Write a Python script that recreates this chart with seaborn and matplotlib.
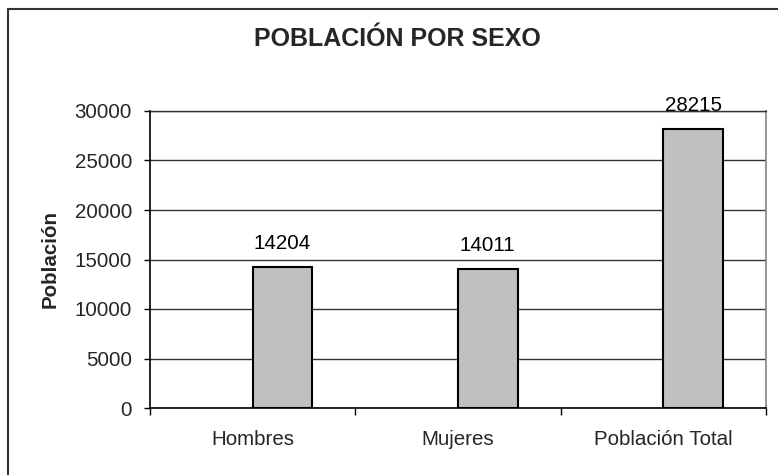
import pandas as pd
import numpy as np
import matplotlib
matplotlib.use("Agg")
import matplotlib.pyplot as plt
import seaborn as sns
from matplotlib.lines import Line2D
from matplotlib.ticker import FixedLocator

# data
categorias = ["Hombres", "Mujeres", "Población Total"]
poblacion = [14204, 14011, 28215]
y_ticks = [0, 5000, 10000, 15000, 20000, 25000, 30000]

sns.set_theme(style="white")
plt.rcParams['font.family'] = ['Liberation Sans', 'DejaVu Sans']

# excel chart had an empty first series, so bars sit right of the category centre
df = pd.DataFrame({
    "categoria": categorias * 2,
    "serie": ["vacio"] * len(categorias) + ["Población"] * len(categorias),
    "valor": [np.nan] * len(categorias) + poblacion,
})

fig = plt.figure(figsize=(7.78, 4.75), dpi=100)
ax = fig.add_axes([150/778, 1 - 408/475, (766 - 150)/778, (408 - 111)/475])

sns.barplot(data=df, x="categoria", y="valor", hue="serie",
            hue_order=["vacio", "Población"], order=categorias,
            palette=["#C0C0C0", "#C0C0C0"], edgecolor="black", linewidth=1.5,
            width=0.58, legend=False, ax=ax, zorder=3)

ax.bar_label(ax.containers[-1], fmt="%d", padding=10, fontsize=14.8, color="black")

ax.set_ylim(0, 30000)
ax.set_yticks(y_ticks)
ax.set_xlim(-0.5, len(categorias) - 0.5)
ax.yaxis.grid(True, color="#333333", linewidth=1)
ax.set_axisbelow(True)

# tick marks on category boundaries, labels in the middle
ax.xaxis.set_minor_locator(FixedLocator(np.arange(-0.5, len(categorias), 1.0)))
ax.tick_params(axis="x", which="major", length=0, pad=16, labelsize=14.8)
ax.tick_params(axis="x", which="minor", length=5, width=1, color="black", direction="out", bottom=True)
ax.tick_params(axis="y", length=4, width=1, color="black", direction="out", left=True, pad=9, labelsize=14.8)

for s in ["left", "bottom"]:
    ax.spines[s].set_color("black")
    ax.spines[s].set_linewidth(1.2)
ax.spines["right"].set_color("#888888")
ax.spines["top"].set_color("#333333")
ax.spines["top"].set_linewidth(1)

ax.set_xlabel("")
ax.set_ylabel("Población", fontsize=14.8, fontweight="bold", labelpad=11)
fig.text(397/778, 1 - 39/475, "POBLACIÓN POR SEXO", fontsize=18, fontweight="bold",
         ha="center", va="center")

# chart border (only left and top visible in the crop)
fig.add_artist(Line2D([8/778, 8/778], [0, 1 - 9/475], transform=fig.transFigure, color="#333333", lw=1.5))
fig.add_artist(Line2D([8/778, 1], [1 - 9/475, 1 - 9/475], transform=fig.transFigure, color="#333333", lw=1.5))

fig.savefig("out.png", dpi=100)
